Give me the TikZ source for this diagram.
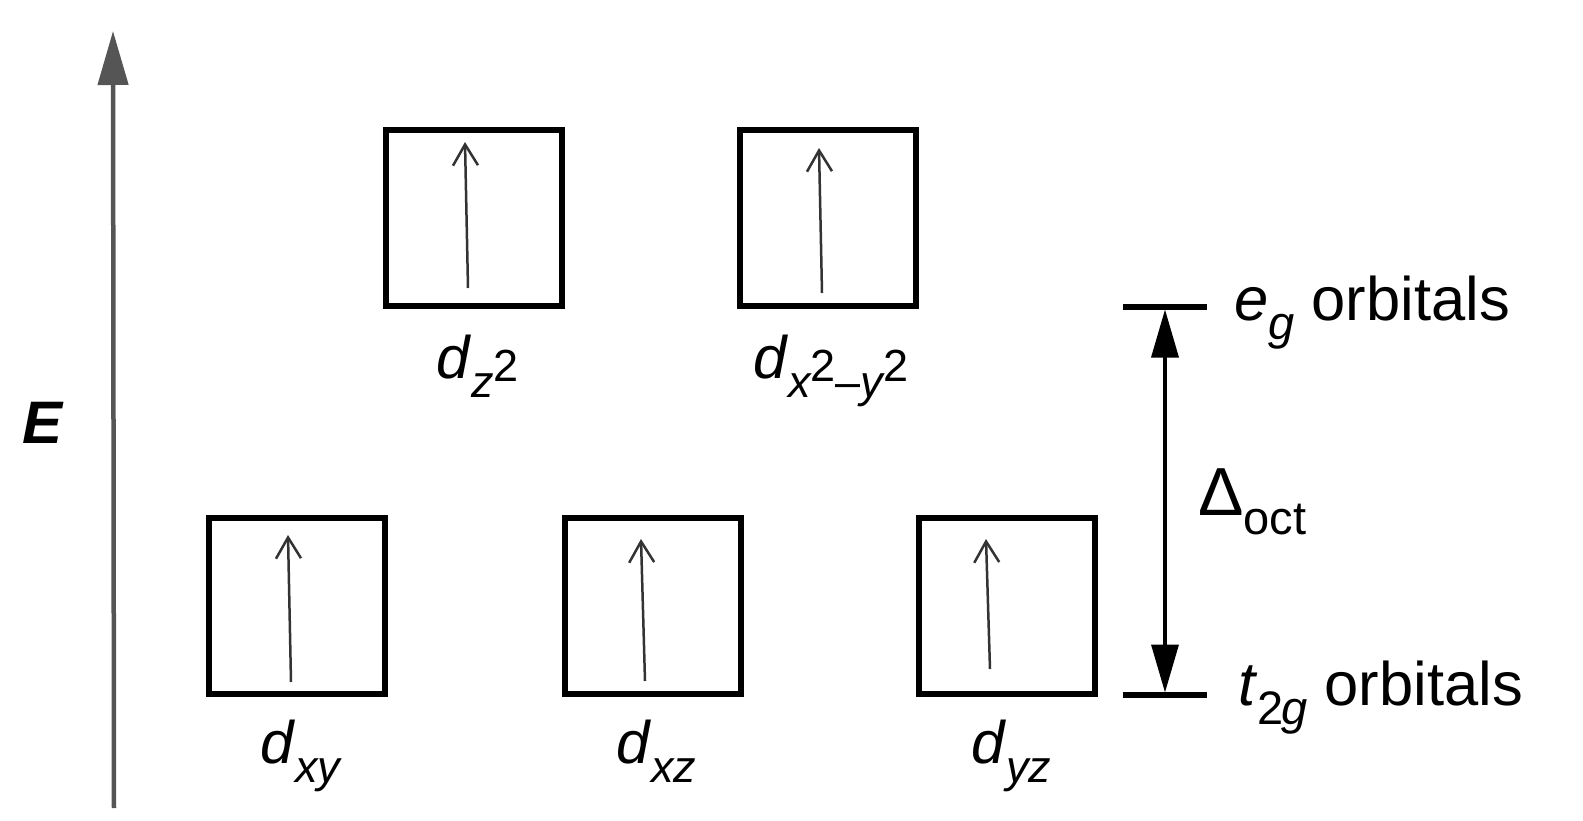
\documentclass[tikz,border=0pt]{standalone}
\usepackage{fontspec}
\setmainfont{Liberation Sans}
\usetikzlibrary{arrows.meta,calc}
\definecolor{axisgray}{HTML}{555555}
\definecolor{spingray}{HTML}{333333}
\newcommand{\mainsz}{\fontsize{60}{66}\selectfont}
\newcommand{\rightsz}{\fontsize{61.5}{66}\selectfont}
\newcommand{\subsz}{\fontsize{45}{50}\selectfont}
\newcommand{\rsubsz}{\fontsize{47}{50}\selectfont}
\newcommand{\lowit}[1]{\raisebox{-19pt}{\subsz\itshape #1}}
\newcommand{\lowrm}[1]{\raisebox{-19pt}{\subsz #1}}
\newcommand{\hirm}[1]{\raisebox{-3pt}{\subsz #1}}
\newcommand{\rlowit}[1]{\raisebox{-19pt}{\rsubsz\itshape #1}}
\newcommand{\rlowrm}[1]{\raisebox{-19pt}{\rsubsz #1}}
\begin{document}
\begin{tikzpicture}[x=1pt,y=-1pt,
  orb/.style={draw=black,line width=6pt,minimum width=176pt,minimum height=176pt,inner sep=0pt},
  spinarrow/.style={draw=spingray,line width=2.5pt,-{Straight Barb[length=21pt,width=25pt]}},
  lbl/.style={inner sep=0pt,anchor=base west,font=\mainsz},
  rlbl/.style={inner sep=0pt,anchor=base west,font=\rightsz},
  level/.style={line width=5.5pt},
  gap/.style={line width=3.5pt,{Triangle[length=48pt,width=27pt]}-{Triangle[length=48pt,width=27pt]}},
  axis/.style={draw=axisgray,line width=4.5pt,-{Triangle[length=54pt,width=30pt]}}]
\useasboundingbox (0,0) rectangle (1583,821);
% energy axis
\coordinate (axbot) at (114,808);
\coordinate (axtop) at (113,31);
\draw[axis] (axbot) -- (axtop);
\node[lbl,font=\mainsz\bfseries\itshape] (E) at (22,443) {E};
% orbital boxes
\node[orb] (bz2) at (474,218) {};
\node[orb] (bx2) at (828,218) {};
\node[orb] (bxy) at (297,606) {};
\node[orb] (bxz) at (653,606) {};
\node[orb] (byz) at (1007,606) {};
% spin arrows
\draw[spinarrow] ($(bz2.center)+(-6,70)$) -- ($(bz2.center)+(-9,-76)$);
\draw[spinarrow] ($(bx2.center)+(-6,75)$) -- ($(bx2.center)+(-9,-70)$);
\draw[spinarrow] ($(bxy.center)+(-6,76)$) -- ($(bxy.center)+(-9,-71)$);
\draw[spinarrow] ($(bxz.center)+(-8,75)$) -- ($(bxz.center)+(-12,-67)$);
\draw[spinarrow] ($(byz.center)+(-17,63)$) -- ($(byz.center)+(-21,-67)$);
% orbital labels
\node[lbl] (lz2) at (436,378) {\textit{d}\lowit{z}\hirm{2}};
\node[lbl] (lx2) at (753,378) {\textit{d}\lowit{x}\hirm{2}\lowrm{–}\lowit{y}\hirm{2}};
\node[lbl] (lxy) at (260,763) {\textit{d}\lowit{xy}};
\node[lbl] (lxz) at (616,763) {\textit{d}\lowit{xz}};
\node[lbl] (lyz) at (971,763) {\textit{d}\lowit{yz}};
% levels and splitting
\coordinate (egL) at (1123,307);
\coordinate (egR) at (1207,307);
\coordinate (tgL) at (1123,695);
\coordinate (tgR) at (1207,695);
\draw[level] (egL) -- (egR);
\draw[level] (tgL) -- (tgR);
\coordinate (gtop) at (1165,309.5);
\coordinate (gbot) at (1165,692.5);
\draw[gap] (gtop) -- (gbot);
\node[rlbl] (eg) at (1234,320) {\textit{e}\rlowit{g} orbitals};
\node[rlbl] (tg) at (1238,705) {\textit{t}\rlowrm{2}\kern-2pt\rlowit{g} orbitals};
\node[rlbl] (delta) at (1198,515) {{\fontsize{68}{70}\selectfont Δ}\rlowrm{oct}};
\end{tikzpicture}
\end{document}
